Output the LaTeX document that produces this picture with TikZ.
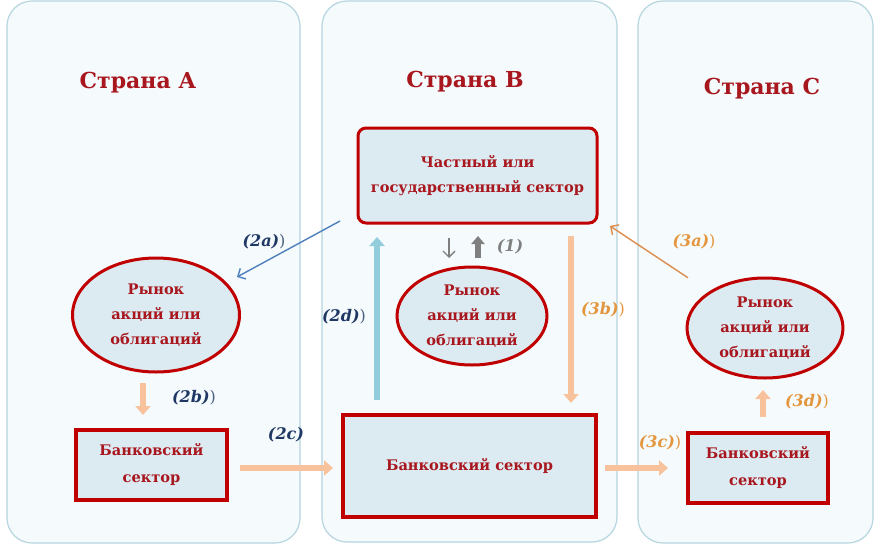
\documentclass[tikz,border=0pt]{standalone}
\usepackage{fontspec}
\setmainfont{DejaVu Serif}
\usetikzlibrary{arrows.meta,shapes.geometric}
\definecolor{panelfill}{HTML}{F5FAFC}
\definecolor{paneldraw}{HTML}{B5D5DF}
\definecolor{boxfill}{HTML}{DCEBF2}
\definecolor{boxdraw}{HTML}{C00000}
\definecolor{redtext}{HTML}{A8161E}
\definecolor{navy}{HTML}{1F3864}
\definecolor{peach}{HTML}{F8C29C}
\definecolor{skyb}{HTML}{93CDDB}
\definecolor{steel}{HTML}{4F7FBC}
\definecolor{orangel}{HTML}{DC8C4C}
\definecolor{orangetxt}{HTML}{E4963E}
\definecolor{grayarr}{HTML}{7F7F7F}
\begin{document}
\begin{tikzpicture}[x=1pt,y=-1pt,
 panel/.style={draw=paneldraw, fill=panelfill, line width=1.2pt, rounded corners=25pt},
 title/.style={text=redtext, font=\fontsize{22}{26}\selectfont\bfseries, anchor=base},
 nodetext/.style={text=redtext, font=\fontsize{14.6}{25}\selectfont\bfseries, align=center, inner sep=0pt},
 secbox/.style={nodetext, font=\fontsize{14.6}{24.5}\selectfont\bfseries, draw=boxdraw, fill=boxfill, line width=3pt, rounded corners=8pt},
 bankbox/.style={nodetext, font=\fontsize{14.6}{27}\selectfont\bfseries, draw=boxdraw, fill=boxfill, line width=4pt},
 market/.style={nodetext, ellipse, draw=boxdraw, fill=boxfill, line width=3pt},
 fatarrow/.style={line width=6.5pt, -{Triangle[length=9pt,width=15pt]}},
 thinarrow/.style={line width=1.4pt, -{Straight Barb[length=6pt,width=12pt]}},
 lbl/.style={font=\fontsize{16}{18}\selectfont\bfseries\itshape, inner sep=0pt},
]
\useasboundingbox (0,0) rectangle (876,549);
% panels
\draw[panel] (7,1) rectangle (300,543);
\draw[panel] (322,1) rectangle (617,542);
\draw[panel] (638,1) rectangle (873,543);
% titles
\node[title] (tA) at (138,88) {Страна А};
\node[title] (tB) at (465,87.5) {Страна В};
\node[title] (tC) at (762,94) {Страна С};
% nodes
\node[secbox, minimum width=239pt, minimum height=95pt] (priv) at (477.5,175.5) {Частный или\\государственный сектор};
\node[market, minimum width=167pt, minimum height=114pt] (mA) at (156,315) {Рынок\\акций или\\облигаций};
\node[market, minimum width=150pt, minimum height=98pt] (mB) at (472,316) {Рынок\\акций или\\облигаций};
\node[market, minimum width=156pt, minimum height=100pt] (mC) at (765,328) {Рынок\\акций или\\облигаций};
\node[bankbox, minimum width=151pt, minimum height=70pt] (bA) at (151.5,465) {Банковский\\сектор};
\node[bankbox, minimum width=253pt, minimum height=102pt] (bB) at (469.5,466) {Банковский сектор};
\node[bankbox, minimum width=140pt, minimum height=70pt] (bC) at (758,468) {Банковский\\сектор};
% arrows
\draw[fatarrow, peach, shorten <=9.5pt, shorten >=13pt] ([xshift=-13pt]mA.south) -- ([xshift=-8.5pt]bA.north);
\draw[fatarrow, skyb, shorten <=13pt, shorten >=12.5pt] ([xshift=-92.5pt]bB.north) -- ([xshift=-100.5pt]priv.south);
\draw[fatarrow, peach, shorten <=11pt, shorten >=10pt] ([xshift=93.5pt]priv.south) -- ([xshift=101.5pt]bB.north);
\draw[fatarrow, peach, shorten <=11pt, shorten >=8pt] ([yshift=-3pt]bA.east) -- ([yshift=-2pt]bB.west);
\draw[fatarrow, peach, shorten <=7pt, shorten >=18pt] ([yshift=-2pt]bB.east) -- (bC.west);
\draw[fatarrow, peach, shorten <=14pt, shorten >=10.5pt] ([xshift=5pt]bC.north) -- ([xshift=-2pt]mC.south);
\draw[thinarrow, grayarr, shorten <=13.5pt, shorten >=7.5pt] ([xshift=-28.5pt]priv.south) -- ([xshift=-23pt]mB.north);
\draw[grayarr, line width=5.5pt, -{Triangle[length=8pt,width=13pt]}, shorten <=7.5pt, shorten >=11.5pt] ([xshift=6pt]mB.north) -- ([xshift=0.5pt]priv.south);
\draw[thinarrow, steel] ([shift={(-16.5pt,3.5pt)}]priv.south west) -- ([shift={(81pt,38pt)}]mA.center);
\draw[thinarrow, orangel, shorten <=25pt] (mC.north west) -- ([shift={(11.5pt,-1.5pt)}]priv.south east);
% labels
\node[lbl, text=navy] (l2a) at (264,242) {(2a){\normalfont\color{navy!80})}};
\node[lbl, text=navy] (l2b) at (194,398) {(2b){\normalfont\color{navy!80})}};
\node[lbl, text=navy] (l2c) at (286,435) {(2c)};
\node[lbl, text=navy] (l2d) at (344,317) {(2d){\normalfont\color{navy!80})}};
\node[lbl, text=grayarr] (l1) at (510,247) {(1)};
\node[lbl, text=orangetxt] (l3a) at (694,242) {(3a){\normalfont)}};
\node[lbl, text=orangetxt] (l3b) at (603,310) {(3b){\normalfont)}};
\node[lbl, text=orangetxt] (l3c) at (660,443) {(3c){\normalfont)}};
\node[lbl, text=orangetxt] (l3d) at (807,402) {(3d){\normalfont)}};
\end{tikzpicture}
\end{document}
